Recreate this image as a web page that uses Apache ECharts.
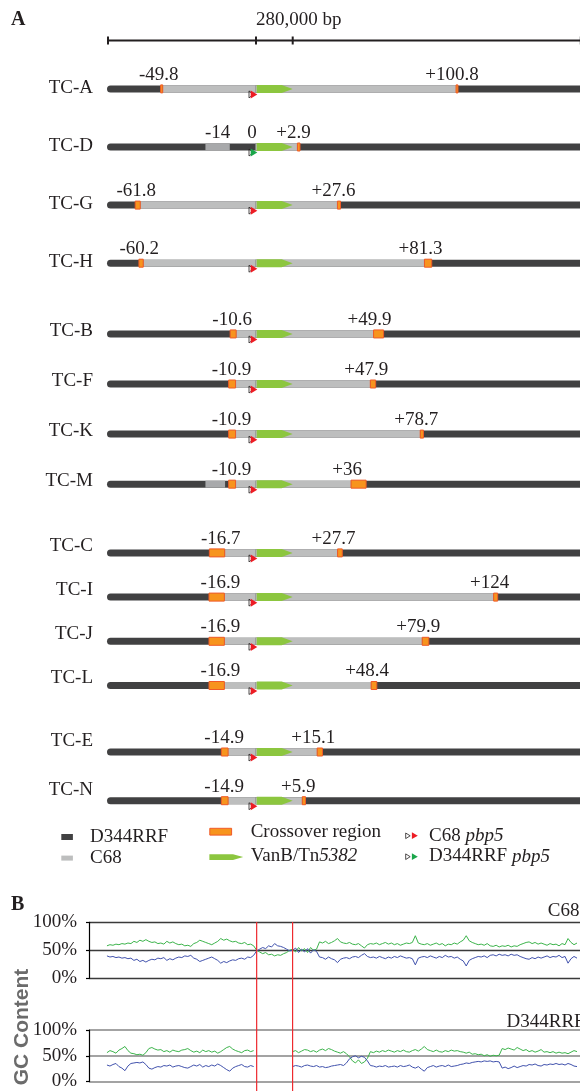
<!DOCTYPE html>
<html>
<head>
<meta charset="utf-8">
<script src="https://cdn.jsdelivr.net/npm/echarts@6/dist/echarts.min.js"></script>
<style>
  html, body { margin: 0; padding: 0; background: #ffffff; }
  #chart { width: 580px; height: 1091px; }
</style>
</head>
<body>
<div id="chart"></div>
<script>
// ---------- Panel A: transconjugant maps ----------
const strains = ['TC-A', 'TC-D', 'TC-G', 'TC-H', 'TC-B', 'TC-F', 'TC-K', 'TC-M', 'TC-C', 'TC-I', 'TC-J', 'TC-L', 'TC-E', 'TC-N'];
const groupSizes = [4, 4, 4, 2];

// C68-derived segment boundaries (kb): upstream of pbp5, and downstream of Tn5382
const leftJunction  = [-49.8, 0, -61.8, -60.2, -10.6, -10.9, -10.9, -10.9, -16.7, -16.9, -16.9, -16.9, -14.9, -14.9];
const rightJunction = [100.8, 2.9, 27.6, 81.3, 49.9, 47.9, 78.7, 36, 27.7, 124, 79.9, 48.4, 15.1, 5.9];

// Length of the crossover regions (kb), outside each boundary
const leftCrossover  = [1.1, 0, 2.7, 2.3, 3.2, 3.7, 3.7, 3.7, 8.2, 8.2, 8.2, 8.2, 3.6, 3.6];
const rightCrossover = [1.2, 1.6, 1.9, 4.5, 6.2, 3.3, 2.0, 9.3, 2.9, 2.5, 4.1, 3.5, 3.3, 2.0];

// Origin of the pbp5 allele in each transconjugant
const pbp5Allele = ['C68', 'D344RRF', 'C68', 'C68', 'C68', 'C68', 'C68', 'C68', 'C68', 'C68', 'C68', 'C68', 'C68', 'C68'];

// Separate short C68 patches upstream (kb)
const patchStrain = ['TC-D', 'TC-M'];
const patchFrom   = [-27, -27];
const patchTo     = [-14, -16.5];
const patchLabel  = [true, false];

// Extent of the map (kb)
const tn5382Length = 22.65;
const upstreamExtent = 79.55;
const downstreamExtent = 177.3;
const scaleBarBp = 280000;

// ---------- Panel B: GC content (sliding windows) ----------
const tn5382Windows = [50, 62];
const c68GC = [
  58,60,59,61,60,62,61,63,62,66,64,68,66,69,66,64,65,62,63,61,66,63,65,62,60,61,58,59,57,62,64,68,66,64,62,60,63,66,71,68,70,67,65,66,63,62,64,60,61,58,
  50,47,44,46,42,43,40,42,41,44,46,50,
  52,47,55,49,53,46,55,50,52,
  65,63,66,62,64,67,71,65,63,62,64,61,60,62,58,54,60,62,61,63,60,62,64,61,63,60,62,59,61,63,62,64,76,63,61,60,62,59,61,63,
  60,62,58,61,60,63,61,65,68,76,67,64,62,60,61,59,62,58,57,59,56,58,57,59,56,58,57,60,62,64,65,62,64,61,63,61,59,62,60,61,
  58,62,60,71,64,60,63
];
const c68AT = [
  40,38,39,37,38,36,37,35,36,32,34,30,32,29,32,34,33,36,35,37,32,35,33,36,38,37,40,39,41,36,34,30,32,34,36,38,35,32,27,30,28,31,33,32,35,36,34,38,37,41,
  49,52,55,53,58,56,62,58,57,55,52,49,
  50,54,46,52,47,53,45,51,48,
  38,37,34,38,35,33,28,34,36,37,35,38,39,37,41,44,39,37,38,36,39,37,35,38,36,39,37,40,38,36,37,35,24,36,38,39,37,40,38,36,
  39,37,41,38,39,36,38,34,31,22,32,35,37,39,38,40,37,41,42,40,43,41,42,40,43,41,42,39,37,35,34,37,35,38,36,38,40,37,39,38,
  41,37,39,27,35,39,36
];
const d344GCLeft = [
  56,60,58,55,61,64,68,60,55,54,52,53,51,56,64,66,63,61,62,58,60,57,61,59,58,61,62,64,60,57,59,56,61,58,60,57,59,55,58,62,
  66,68,63,60,58,56,60,61,58,60
];
const d344GCRight = [
  58,60,56,59,62,61,58,60,57,61,63,60,64,62,59,57,55,58,54,48,40,36,42,35,38,45,58,56,59,57,60,58,61,59,57,60,58,61,58,57,
  60,62,59,63,68,62,60,58,61,58,57,60,58,61,59,60,58,57,55,57,53,54,52,53,50,52,49,51,50,51,64,62,65,63,61,66,63,60,62,58,
  60,57,59,62,57,58,56,58,55,57,55,56,54,57,60,58
];
const d344ATLeft = [
  32,30,33,35,29,26,21,30,35,36,37,36,38,33,26,24,27,29,28,31,30,32,28,30,31,29,27,26,29,32,30,33,28,31,29,32,30,34,31,27,
  23,20,26,29,31,33,29,28,31,29
];
const d344ATRight = [
  29,31,30,28,31,32,30,29,31,28,29,27,28,30,31,32,33,31,36,44,48,50,46,49,47,40,31,30,28,30,29,31,28,29,30,28,31,29,30,32,
  28,26,29,24,20,27,29,31,28,30,31,29,32,29,30,31,33,34,36,35,37,38,39,38,40,39,40,38,39,38,26,28,25,27,30,27,29,31,30,33,
  32,34,31,30,33,32,34,33,35,33,34,32,35,33,30,29
];

// ---------- styling ----------
const C = {
  ink: '#231f20', dark: '#414142', light: '#bdbebe', patch: '#a8a9ab',
  orange: '#f7941d', orangeEdge: '#f05a28', green: '#8cc63f',
  red: '#ed1c24', pbpGreen: '#1aa64a', gc: '#3cb44b', at: '#4152ad', marker: '#ee2a2f'
};
const SERIF = '"Liberation Serif", "Times New Roman", serif';
const BAR = 7;
const fmt = v => (v > 0 ? '+' + v : String(v));

// the D344RRF genome has no Tn5382: a gap spans those windows
const gapLen = tn5382Windows[1] - tn5382Windows[0];
const d344GC = d344GCLeft.concat(new Array(gapLen).fill(null), d344GCRight);
const d344AT = d344ATLeft.concat(new Array(gapLen).fill(null), d344ATRight);

// row layout of the four groups of tracks
const groupLayout = [
  { top: 59.85, height: 232.4, labelLift: 1 },
  { top: 308.9, height: 200.3, labelLift: 3 },
  { top: 530.8, height: 176.8, labelLift: 7 },
  { top: 727.65, height: 97.4, labelLift: 11 }
];

function rect(x1, x2, y, h, fill, r, stroke) {
  const el = { type: 'rect', shape: { x: x1, y: y - h / 2, width: Math.max(x2 - x1, 0.5), height: h }, style: { fill: fill } };
  if (r) el.shape.r = r;
  if (stroke) { el.style.stroke = stroke; el.style.lineWidth = 1; }
  return el;
}
function label(text, x, y, align) {
  return { type: 'text', style: { text: text, x: x, y: y, align: align || 'center', verticalAlign: 'middle', font: '19px ' + SERIF, fill: C.ink } };
}

// upstream flank: strain name, backbone, C68 segment, crossover, pbp5 markers, labels
function makeUpstream(lift) {
  return function (params, api) {
    const k = api.value(1), s = api.value(2);
    const xOf = v => api.coord([v, k])[0];
    const y = api.coord([0, k])[1];
    const xz = xOf(0), xa = xOf(-upstreamExtent);
    const ch = [];
    ch.push(label(strains[s], xa - 14, y - lift, 'right'));
    ch.push(rect(xa, xz + 0.5, y, BAR, C.dark, [BAR / 2, 0, 0, BAR / 2]));
    const lj = leftJunction[s];
    if (lj < 0) ch.push(rect(xOf(lj), xz + 0.5, y, BAR, C.light));
    patchStrain.forEach((name, p) => {
      if (name !== strains[s]) return;
      ch.push(rect(xOf(patchFrom[p]), xOf(patchTo[p]), y, BAR, C.patch));
      if (patchLabel[p]) ch.push(label(fmt(patchTo[p]), xOf((patchFrom[p] + patchTo[p]) / 2), y - 14));
    });
    if (leftCrossover[s] > 0) ch.push(rect(xOf(lj - leftCrossover[s]), xOf(lj), y, 8, C.orange, null, C.orangeEdge));
    ch.push({ type: 'polygon', shape: { points: [[xz - 7, y + 2], [xz - 7, y + 9], [xz - 2.7, y + 5.5]] },
              style: { fill: 'none', stroke: C.ink, lineWidth: 0.8 } });
    ch.push({ type: 'polygon', shape: { points: [[xz - 5.3, y + 1.6], [xz - 5.3, y + 9.6], [xz + 1.3, y + 5.6]] },
              style: { fill: pbp5Allele[s] === 'C68' ? C.red : C.pbpGreen } });
    ch.push(label(fmt(lj), xOf(lj) - 4, y - 14));
    return { type: 'group', children: ch };
  };
}

// Tn5382 and downstream flank
function renderDownstream(params, api) {
  const k = api.value(1), s = api.value(2);
  const xOf = v => api.coord([v, k])[0];
  const y = api.coord([0, k])[1];
  const xs = xOf(-tn5382Length), x0 = xOf(0);
  const rj = rightJunction[s];
  const ch = [];
  ch.push(rect(xs - 0.5, xOf(downstreamExtent) + 4, y, BAR, C.dark));
  ch.push(rect(xs - 0.5, xOf(rj), y, BAR, C.light));
  ch.push({ type: 'polygon', shape: { points: [[xs + 0.7, y - 4], [x0 - 11, y - 4], [x0, y], [x0 - 11, y + 4], [xs + 0.7, y + 4]] },
            style: { fill: C.green } });
  ch.push(rect(xOf(rj), xOf(rj + rightCrossover[s]), y, 8, C.orange, null, C.orangeEdge));
  ch.push(label(fmt(rj), xOf(rj) - 4, y - 14));
  return { type: 'group', children: ch };
}

// scale bar across both flanks
function renderScaleUp(params, api) {
  const y = api.coord([0, 0])[1];
  const a = api.coord([-upstreamExtent, 0])[0], b = api.coord([0, 0])[0];
  const st = { stroke: C.ink, lineWidth: 2 };
  return { type: 'group', children: [
    { type: 'line', shape: { x1: a, y1: y, x2: b, y2: y }, style: st },
    { type: 'line', shape: { x1: a + 1, y1: y - 4, x2: a + 1, y2: y + 4 }, style: st },
    { type: 'line', shape: { x1: b, y1: y - 4, x2: b, y2: y + 4 }, style: st }
  ] };
}
function renderScaleDown(params, api) {
  const y = api.coord([0, 0])[1];
  const end = scaleBarBp / 1000 - upstreamExtent - tn5382Length;
  const a = api.coord([-tn5382Length, 0])[0], m = api.coord([0, 0])[0], e = api.coord([end, 0])[0];
  const st = { stroke: C.ink, lineWidth: 2 };
  return { type: 'group', children: [
    { type: 'line', shape: { x1: a, y1: y, x2: e, y2: y }, style: st },
    { type: 'line', shape: { x1: m, y1: y - 4, x2: m, y2: y + 4 }, style: st },
    { type: 'line', shape: { x1: e, y1: y - 4, x2: e, y2: y + 4 }, style: st },
    { type: 'text', style: { text: scaleBarBp.toLocaleString('en-US') + ' bp', x: a, y: y - 20.5, align: 'left', verticalAlign: 'middle', font: '19px ' + SERIF, fill: C.ink } }
  ] };
}

const grids = [], xAxes = [], yAxes = [], series = [];
let start = 0;
groupSizes.forEach((n, g) => {
  const names = strains.slice(start, start + n);
  const L = groupLayout[g];
  const gi = grids.length;
  grids.push({ left: 107, width: 149, top: L.top, height: L.height });
  grids.push({ left: 256, width: 324, top: L.top, height: L.height });
  xAxes.push({ gridIndex: gi, type: 'value', min: -upstreamExtent, max: 0, show: false });
  xAxes.push({ gridIndex: gi + 1, type: 'value', min: -tn5382Length, max: downstreamExtent, show: false });
  yAxes.push({ gridIndex: gi, type: 'category', data: names, inverse: true, show: false });
  yAxes.push({ gridIndex: gi + 1, type: 'category', data: names, inverse: true, show: false });
  const data = names.map((_, k) => [0, k, start + k]);
  series.push({ type: 'custom', xAxisIndex: gi, yAxisIndex: gi, renderItem: makeUpstream(L.labelLift), data: data, silent: true, z: 2 });
  series.push({ type: 'custom', xAxisIndex: gi + 1, yAxisIndex: gi + 1, renderItem: renderDownstream, data: data, silent: true, z: 2 });
  start += n;
});

// scale bar grids
{
  const gi = grids.length;
  grids.push({ left: 107, width: 149, top: 30, height: 21 });
  grids.push({ left: 256, width: 324, top: 30, height: 21 });
  xAxes.push({ gridIndex: gi, type: 'value', min: -upstreamExtent, max: 0, show: false });
  xAxes.push({ gridIndex: gi + 1, type: 'value', min: -tn5382Length, max: downstreamExtent, show: false });
  yAxes.push({ gridIndex: gi, type: 'category', data: ['scale'], show: false });
  yAxes.push({ gridIndex: gi + 1, type: 'category', data: ['scale'], show: false });
  series.push({ type: 'custom', xAxisIndex: gi, yAxisIndex: gi, renderItem: renderScaleUp, data: [[0, 0]], silent: true });
  series.push({ type: 'custom', xAxisIndex: gi + 1, yAxisIndex: gi + 1, renderItem: renderScaleDown, data: [[0, 0]], silent: true });
}

// GC content panels
const windowAxis = { type: 'value', min: -6, max: 158, show: false };
function gcYAxis(gi, lineColor, lineWidth) {
  return { gridIndex: gi, type: 'value', min: 0, max: 100, interval: 50,
    axisLine: { show: true, onZero: false, lineStyle: { color: '#000', width: 1.2 } },
    axisTick: { show: true, length: 3, lineStyle: { color: '#000', width: 1.2 } },
    splitLine: { show: true, lineStyle: { color: lineColor, width: lineWidth } },
    axisLabel: { formatter: '{value}%', margin: 12, fontFamily: SERIF, fontSize: 19, color: C.ink, padding: [8, 0, 0, 0] } };
}
function gcLine(gi, values, color) {
  return { type: 'line', xAxisIndex: gi, yAxisIndex: gi, data: values.map((v, i) => [i, v]),
    showSymbol: false, connectNulls: false, silent: true, lineStyle: { color: color, width: 1 }, z: 3 };
}
{
  const g1 = grids.length;
  grids.push({ left: 89, width: 491, top: 922.3, height: 56 });
  grids.push({ left: 89, width: 491, top: 1030, height: 56 });
  grids.push({ left: 89, width: 491, top: 922, bottom: 0 });
  xAxes.push(Object.assign({ gridIndex: g1 }, windowAxis));
  xAxes.push(Object.assign({ gridIndex: g1 + 1 }, windowAxis));
  xAxes.push(Object.assign({ gridIndex: g1 + 2 }, windowAxis));
  yAxes.push(gcYAxis(g1, '#3a3a3a', 1.3));
  yAxes.push(gcYAxis(g1 + 1, '#a3a3a3', 2));
  yAxes.push({ gridIndex: g1 + 2, type: 'value', min: 0, max: 1, show: false });
  series.push(gcLine(g1, c68GC, C.gc), gcLine(g1, c68AT, C.at));
  series.push(gcLine(g1 + 1, d344GC, C.gc), gcLine(g1 + 1, d344AT, C.at));
  // Tn5382 boundaries through both GC panels
  series.push({ type: 'custom', xAxisIndex: g1 + 2, yAxisIndex: g1 + 2, silent: true, z: 5,
    data: tn5382Windows.map(w => [w, 0]),
    renderItem: (params, api) => {
      const x = api.coord([api.value(0), 0])[0];
      const cs = params.coordSys;
      return { type: 'line', shape: { x1: x, y1: cs.y, x2: x, y2: cs.y + cs.height }, style: { stroke: C.marker, lineWidth: 1.2 } };
    } });
}

// panel letters, track titles and legend
const txt = (x, y, text, extra) => Object.assign({ type: 'text', x: x, y: y, silent: true,
  style: Object.assign({ text: text, font: '19px ' + SERIF, fill: C.ink, verticalAlign: 'middle' }, (extra || {})) });
const richText = {
  i: { fontStyle: 'italic', fontSize: 19, fontFamily: SERIF, fill: C.ink },
  n: { fontSize: 19, fontFamily: SERIF, fill: C.ink }
};
const graphic = [
  txt(11, 20, 'A', { font: 'bold 20px ' + SERIF }),
  txt(11, 904.5, 'B', { font: 'bold 20px ' + SERIF }),
  txt(579.5, 911.5, 'C68', { align: 'right' }),
  txt(506.5, 1021.7, 'D344RRF'),
  { type: 'text', x: 22, y: 1027, rotation: Math.PI / 2, silent: true,
    style: { text: 'GC Content', font: 'bold 21px "Liberation Sans", Arial, sans-serif', fill: '#6b6b6b', align: 'center', verticalAlign: 'middle' } },
  // legend
  { type: 'rect', silent: true, shape: { x: 61.3, y: 834, width: 11.6, height: 6 }, style: { fill: C.dark } },
  txt(90, 837.4, 'D344RRF'),
  { type: 'rect', silent: true, shape: { x: 61.3, y: 855.6, width: 11.6, height: 5 }, style: { fill: C.light } },
  txt(90, 858.2, 'C68'),
  { type: 'rect', silent: true, shape: { x: 209.8, y: 828.3, width: 21.8, height: 6.8 }, style: { fill: C.orange, stroke: C.orangeEdge, lineWidth: 1 } },
  txt(250.7, 832.2, 'Crossover region'),
  { type: 'polygon', silent: true, shape: { points: [[209.4, 854.3], [233, 854.3], [243.2, 857.1], [233, 859.9], [209.4, 859.9]] }, style: { fill: C.green } },
  txt(250.7, 856.3, '{n|VanB/Tn}{i|5382}', { rich: richText }),
  { type: 'polygon', silent: true, shape: { points: [[405.7, 833], [405.7, 838.6], [410.2, 835.8]] }, style: { fill: 'none', stroke: C.ink, lineWidth: 0.8 } },
  { type: 'polygon', silent: true, shape: { points: [[411.9, 832.3], [411.9, 839.1], [417.8, 835.7]] }, style: { fill: C.red } },
  txt(429, 836, '{n|C68 }{i|pbp5}', { rich: richText }),
  { type: 'polygon', silent: true, shape: { points: [[405.7, 853.9], [405.7, 859.5], [410.2, 856.7]] }, style: { fill: 'none', stroke: C.ink, lineWidth: 0.8 } },
  { type: 'polygon', silent: true, shape: { points: [[411.9, 853.3], [411.9, 860.1], [417.8, 856.7]] }, style: { fill: C.pbpGreen } },
  txt(429, 856.5, '{n|D344RRF }{i|pbp5}', { rich: richText })
];

const chart = echarts.init(document.getElementById('chart'), null, { renderer: 'canvas' });
chart.setOption({
  animation: false,
  backgroundColor: '#ffffff',
  grid: grids,
  xAxis: xAxes,
  yAxis: yAxes,
  series: series,
  graphic: graphic
});
</script>
</body>
</html>
